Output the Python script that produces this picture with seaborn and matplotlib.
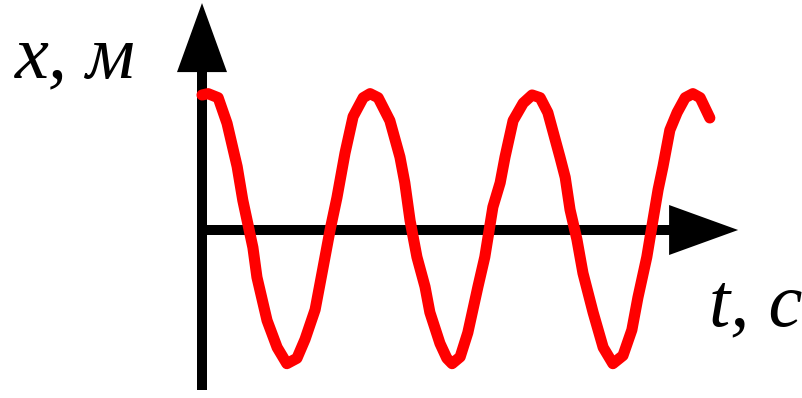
import matplotlib
matplotlib.use("Agg")
import matplotlib.pyplot as plt
import matplotlib.font_manager as fm
from matplotlib.patches import FancyArrowPatch
import seaborn as sns
import pandas as pd

# ---- data (t in s, x in m) ----
t_vals = [0.00, 0.15, 0.40, 0.62, 0.87, 1.01, 1.26, 1.36, 1.61, 1.86, 2.10, 2.35,
          2.55, 2.80, 2.97, 3.17, 3.34, 3.54, 3.74, 3.99, 4.16, 4.36, 4.65, 4.90,
          5.02, 5.15, 5.32, 5.52, 5.64, 5.89, 6.06, 6.19, 6.39, 6.58, 6.83, 7.00,
          7.20, 7.38, 7.50, 7.70, 7.95, 8.17, 8.37, 8.56, 8.86, 8.99, 9.11, 9.28,
          9.43, 9.68, 9.93, 10.17, 10.42, 10.64, 10.79, 11.01, 11.16, 11.29, 11.41,
          11.58, 11.76, 11.96, 12.15, 12.33, 12.57]
x_vals = [1.00, 1.01, 0.98, 0.79, 0.47, 0.22, -0.13, -0.35, -0.67, -0.87, -0.99, -0.95,
          -0.81, -0.59, -0.32, 0.00, 0.24, 0.57, 0.84, 0.98, 1.01, 0.98, 0.81, 0.54,
          0.35, 0.07, -0.20, -0.42, -0.61, -0.84, -0.95, -0.99, -0.94, -0.76, -0.42, -0.20,
          0.17, 0.35, 0.54, 0.81, 0.94, 1.00, 0.98, 0.87, 0.54, 0.39, 0.15, -0.07,
          -0.32, -0.61, -0.87, -0.99, -0.93, -0.74, -0.50, -0.20, 0.07, 0.30, 0.47,
          0.74, 0.87, 0.98, 1.01, 0.98, 0.83]
y_label = "x, м"
t_label = "t, c"

df = pd.DataFrame({"t": t_vals, "x": x_vals})

sns.set_theme(style="white")
plt.rcParams["font.family"] = ["Liberation Serif", "DejaVu Serif"]
plt.rcParams["text.color"] = "black"

label_font = fm.FontProperties(family="Liberation Serif", style="italic", weight="normal", size=55)

fig = plt.figure(figsize=(8.03, 3.98), dpi=100)
ax = fig.add_axes([0, 0, 1, 1])
ax.set_xlim(-5.0, 14.876)
ax.set_ylim(-1.2444, 1.7037)
ax.axis("off")

# axes shafts
ax.plot([0, 0], [-1.185, 1.20], color="black", lw=7.2, solid_capstyle="butt", zorder=1)
ax.plot([-0.05, 11.6], [0, 0], color="black", lw=7.2, solid_capstyle="butt", zorder=1)
# arrow heads
for a, b in [((0, 1.0), (0, 1.681)), ((10.0, 0), (13.27, 0))]:
    ax.add_patch(FancyArrowPatch(a, b, arrowstyle="-|>,head_length=49.7,head_width=18",
                                 mutation_scale=1, fc="black", ec="none", lw=0,
                                 shrinkA=0, shrinkB=0, zorder=1))

sns.lineplot(data=df, x="t", y="x", sort=False, estimator=None, color="#ff0000",
             lw=8, ax=ax, zorder=3)

ax.text(-4.62, 1.133, y_label, fontproperties=label_font, color="black", ha="left", va="baseline")
ax.text(12.55, -0.704, t_label, fontproperties=label_font, color="black", ha="left", va="baseline")

fig.savefig("out.png", dpi=100)
